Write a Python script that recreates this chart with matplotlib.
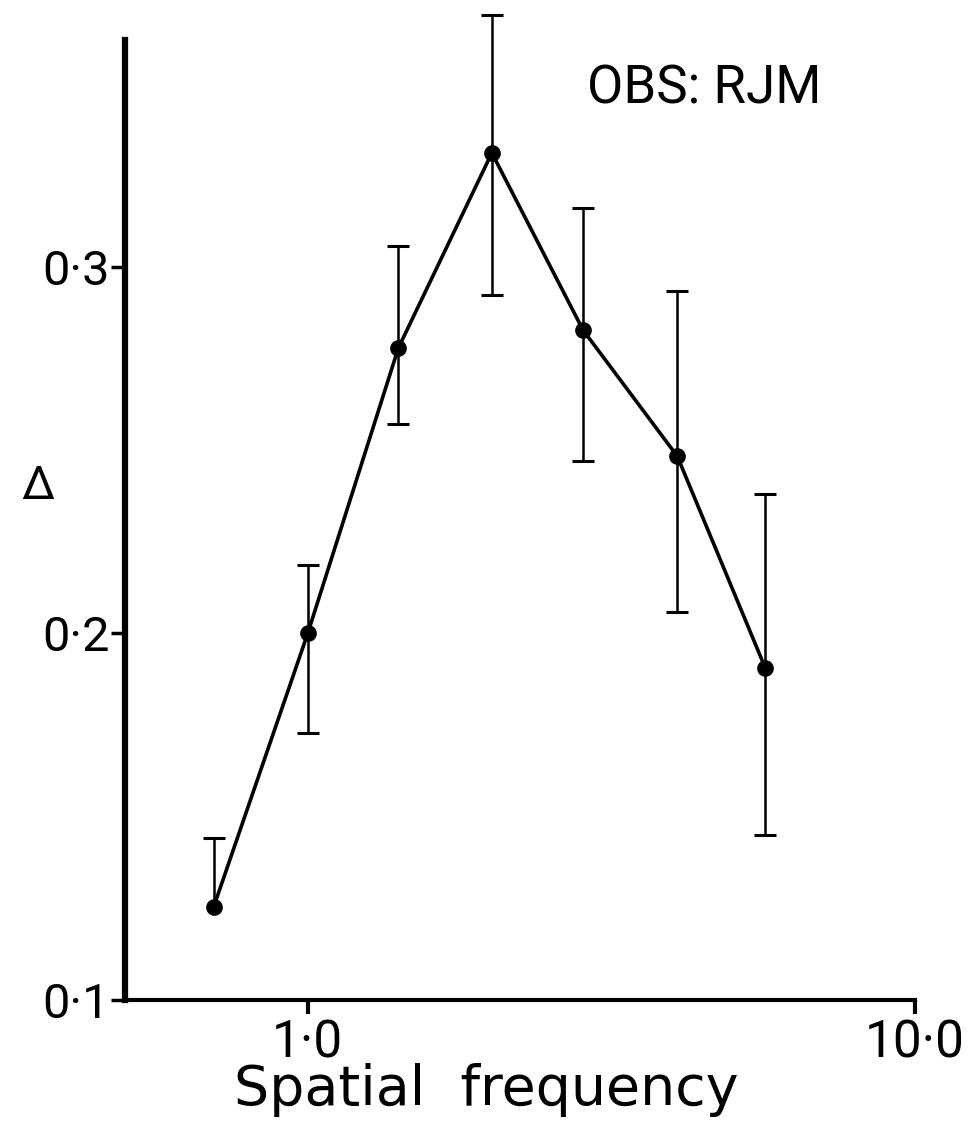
import numpy as np
import matplotlib.pyplot as plt

# Values
freq = [0.70, 1.0, 1.41, 2.01, 2.84, 4.06, 5.67]
delta = [0.1254, 0.2000, 0.2778, 0.3310, 0.2827, 0.2483, 0.1905]
err_hi = [0.1442, 0.2185, 0.3055, 0.3686, 0.3160, 0.2933, 0.2380]
err_lo = [0.1254, 0.1728, 0.2571, 0.2923, 0.2470, 0.2058, 0.1450]

xticks = [1.0, 10.0]
xtick_labels = ['1·0', '10·0']
yticks = [0.1, 0.2, 0.3]
ytick_labels = ['0·1', '0·2', '0·3']

plt.rcParams['font.family'] = ['Roboto', 'DejaVu Sans']

fig = plt.figure(figsize=(9.71, 11.26), dpi=100)
ax = fig.add_axes([0.1287, 0.1119, 0.8136, 0.8526])

y = np.array(delta)
yerr = [y - np.array(err_lo), np.array(err_hi) - y]
_, caps, _ = ax.errorbar(freq, delta, yerr=yerr, fmt='none', ecolor='black',
                         elinewidth=1.8, capsize=8, capthick=2.2,
                         clip_on=False, zorder=2)
# first point has no lower bar in the original
low = [i for i in range(len(freq)) if err_lo[i] < delta[i]]
caps[0].set_markevery(low)
ax.plot(freq, delta, color='black', linewidth=2.6, marker='o', markersize=11,
        clip_on=False, zorder=3)

ax.set_xscale('log')
ax.set_xlim(0.5, 10.0)
ax.set_ylim(0.1, 0.3618)

ax.set_xticks(xticks)
ax.set_xticklabels(xtick_labels)
ax.xaxis.set_minor_locator(plt.NullLocator())
ax.set_yticks(yticks)
ax.set_yticklabels(ytick_labels)
ax.tick_params(axis='x', direction='out', length=10, width=3, labelsize=37, pad=3)
ax.tick_params(axis='y', direction='out', length=10, width=2.5, labelsize=35, pad=1)

ax.spines['top'].set_visible(False)
ax.spines['right'].set_visible(False)
ax.spines['left'].set_linewidth(4.5)
ax.spines['bottom'].set_linewidth(3)

ax.set_xlabel('Spatial  frequency', fontsize=40, family=['DejaVu Sans'],
              va='top')
ax.xaxis.set_label_coords(0.457, -0.066)
ax.set_ylabel('Δ', fontsize=34, rotation=0, va='center', ha='center')
ax.yaxis.set_label_coords(-0.11, 0.535)

ax.text(0.585, 0.975, 'OBS: RJM', transform=ax.transAxes, fontsize=38,
        ha='left', va='top')

fig.savefig('out.png', dpi=100)
